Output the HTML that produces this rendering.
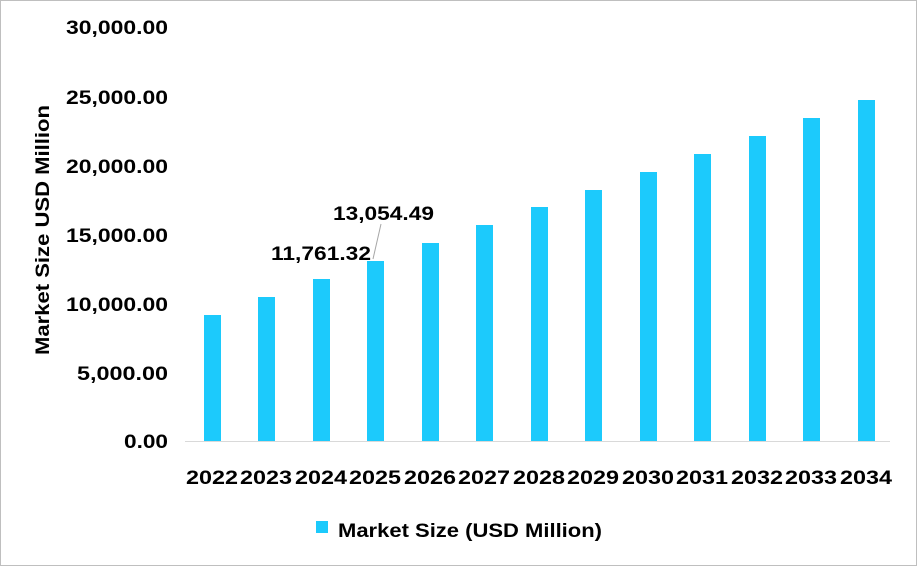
<!DOCTYPE html>
<html><head><style>
html,body{margin:0;padding:0;background:#fff;}
svg{display:block;font-family:"Liberation Sans",Arial,sans-serif;font-weight:bold;}
</style></head><body>
<svg width="917" height="566" viewBox="0 0 917 566">
<rect x="0.5" y="0.5" width="916" height="565" fill="#fff" stroke="#bfbfbf"/>
<g font-size="19" fill="#000">
<text x="66" y="34" textLength="102" lengthAdjust="spacingAndGlyphs">30,000.00</text>
<text x="66" y="104" textLength="102" lengthAdjust="spacingAndGlyphs">25,000.00</text>
<text x="66" y="173" textLength="102" lengthAdjust="spacingAndGlyphs">20,000.00</text>
<text x="66" y="242" textLength="102" lengthAdjust="spacingAndGlyphs">15,000.00</text>
<text x="66" y="311" textLength="102" lengthAdjust="spacingAndGlyphs">10,000.00</text>
<text x="77" y="380" textLength="91" lengthAdjust="spacingAndGlyphs">5,000.00</text>
<text x="124" y="448" textLength="44" lengthAdjust="spacingAndGlyphs">0.00</text>
</g>
<text transform="translate(49,355) rotate(-90)" font-size="19" textLength="250" lengthAdjust="spacingAndGlyphs">Market Size USD Million</text>
<line x1="185" y1="441.5" x2="890" y2="441.5" stroke="#d9d9d9" stroke-width="1"/>
<g fill="#1ccafc">
<rect x="204" y="315" width="17" height="126"/>
<rect x="258" y="297" width="17" height="144"/>
<rect x="313" y="279" width="17" height="162"/>
<rect x="367" y="261" width="17" height="180"/>
<rect x="422" y="243" width="17" height="198"/>
<rect x="476" y="225" width="17" height="216"/>
<rect x="531" y="207" width="17" height="234"/>
<rect x="585" y="190" width="17" height="251"/>
<rect x="640" y="172" width="17" height="269"/>
<rect x="694" y="154" width="17" height="287"/>
<rect x="749" y="136" width="17" height="305"/>
<rect x="803" y="118" width="17" height="323"/>
<rect x="858" y="100" width="17" height="341"/>
</g>
<g font-size="19">
<text x="186" y="484" textLength="52" lengthAdjust="spacingAndGlyphs">2022</text>
<text x="240" y="484" textLength="52" lengthAdjust="spacingAndGlyphs">2023</text>
<text x="295" y="484" textLength="52" lengthAdjust="spacingAndGlyphs">2024</text>
<text x="349" y="484" textLength="52" lengthAdjust="spacingAndGlyphs">2025</text>
<text x="404" y="484" textLength="52" lengthAdjust="spacingAndGlyphs">2026</text>
<text x="458" y="484" textLength="52" lengthAdjust="spacingAndGlyphs">2027</text>
<text x="513" y="484" textLength="52" lengthAdjust="spacingAndGlyphs">2028</text>
<text x="567" y="484" textLength="52" lengthAdjust="spacingAndGlyphs">2029</text>
<text x="622" y="484" textLength="52" lengthAdjust="spacingAndGlyphs">2030</text>
<text x="676" y="484" textLength="52" lengthAdjust="spacingAndGlyphs">2031</text>
<text x="731" y="484" textLength="52" lengthAdjust="spacingAndGlyphs">2032</text>
<text x="785" y="484" textLength="52" lengthAdjust="spacingAndGlyphs">2033</text>
<text x="840" y="484" textLength="52" lengthAdjust="spacingAndGlyphs">2034</text>
</g>
<text x="271" y="260" font-size="19" textLength="100" lengthAdjust="spacingAndGlyphs">11,761.32</text>
<text x="333" y="220" font-size="19" textLength="101" lengthAdjust="spacingAndGlyphs">13,054.49</text>
<line x1="381" y1="224" x2="373" y2="259" stroke="#a6a6a6" stroke-width="1"/>
<rect x="316" y="521" width="12" height="12" fill="#1ccafc"/>
<text x="338" y="537" font-size="19" textLength="264" lengthAdjust="spacingAndGlyphs">Market Size (USD Million)</text>
</svg>
</body></html>
